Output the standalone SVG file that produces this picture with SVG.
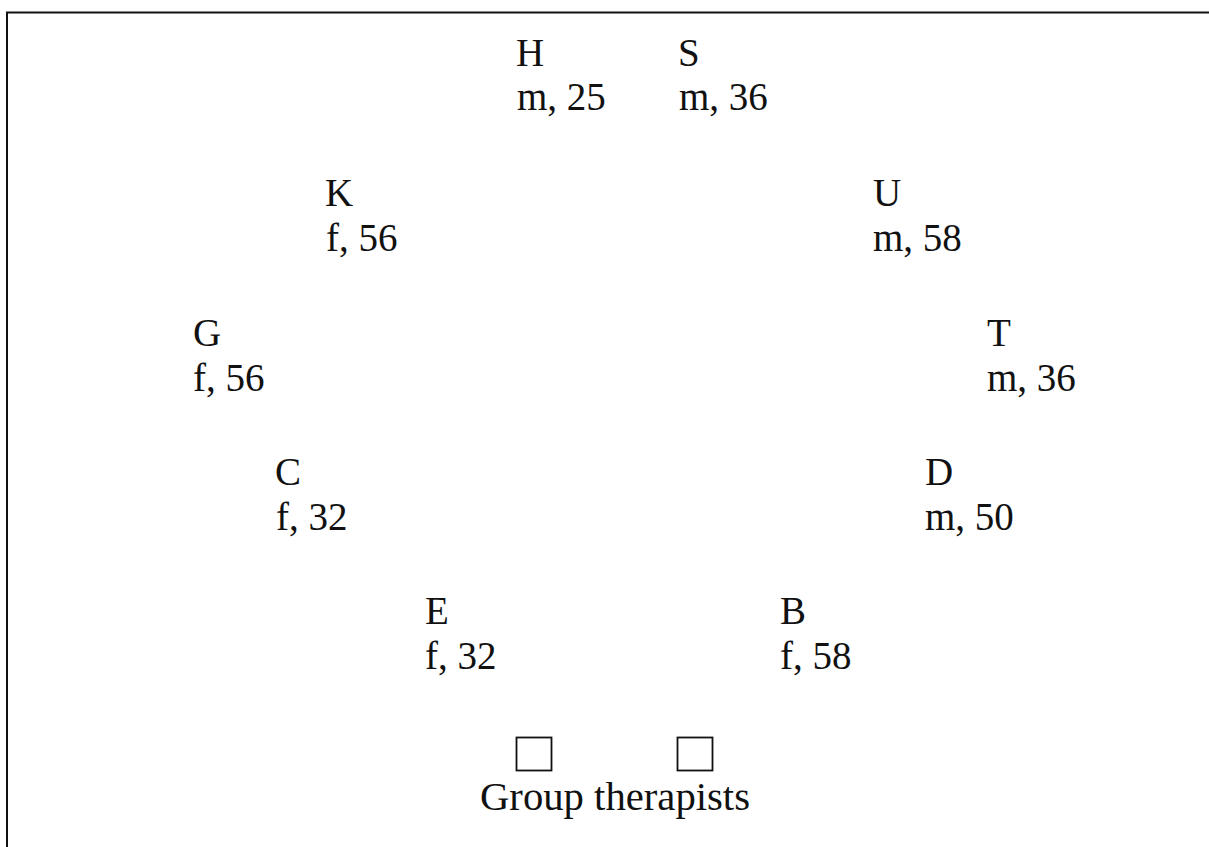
<svg xmlns="http://www.w3.org/2000/svg" width="1209" height="847" viewBox="0 0 1209 847">
<style>
text { font-family: "Liberation Serif", "Times New Roman", serif; font-size: 39px; fill: #111; }
.frame { stroke: #111; stroke-width: 2; fill: none; }
.seat { stroke: #111; stroke-width: 1.8; fill: #fff; }
</style>
<rect width="1209" height="847" fill="#fff"/>
<path class="frame" d="M7,847 V12.5 H1209"/>
<g id="H"><text x="516" y="66">H</text><text x="517" y="110">m, 25</text></g>
<g id="S"><text x="678" y="66">S</text><text x="679" y="110">m, 36</text></g>
<g id="K"><text x="325" y="206">K</text><text x="326" y="251">f, 56</text></g>
<g id="U"><text x="873" y="206">U</text><text x="873" y="251">m, 58</text></g>
<g id="G"><text x="193" y="346">G</text><text x="193" y="391">f, 56</text></g>
<g id="T"><text x="987" y="346">T</text><text x="987" y="391">m, 36</text></g>
<g id="C"><text x="275" y="485">C</text><text x="276" y="530">f, 32</text></g>
<g id="D"><text x="925" y="485">D</text><text x="925" y="530">m, 50</text></g>
<g id="E"><text x="425" y="624">E</text><text x="425" y="669">f, 32</text></g>
<g id="B"><text x="780" y="624">B</text><text x="780" y="669">f, 58</text></g>
<g id="therapists">
<rect class="seat" x="516.5" y="737.5" width="35" height="33"/>
<rect class="seat" x="677.5" y="737.5" width="35" height="33"/>
<text x="480" y="810" textLength="270" lengthAdjust="spacingAndGlyphs">Group therapists</text>
</g>
<g id="connectors"></g>
</svg>
